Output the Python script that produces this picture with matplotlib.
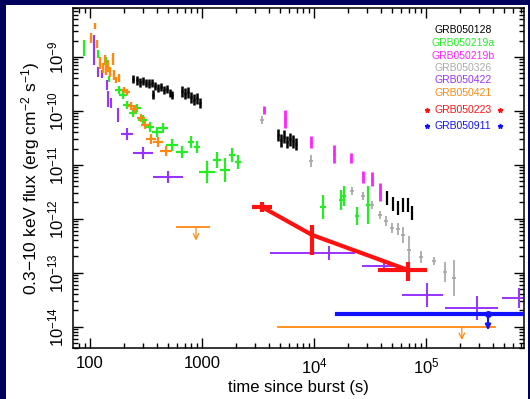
import numpy as np
import matplotlib
matplotlib.use('Agg')
import matplotlib.pyplot as plt
from matplotlib.patches import Rectangle
from matplotlib.ticker import NullFormatter

plt.rcParams['font.family'] = ['Liberation Sans', 'DejaVu Sans']
plt.rcParams['mathtext.fontset'] = 'custom'
plt.rcParams['mathtext.rm'] = 'Liberation Sans'
plt.rcParams['mathtext.it'] = 'Liberation Sans:italic'

# ---- data (time in s, flux in erg/cm2/s, errors in dex) ----

# GRB050128 (black), four groups
b1_t = [242, 263, 279, 297, 316, 336, 358, 365, 381, 405, 431, 458, 487, 518, 540]
b1_f = [3.9e-10, 3.7e-10, 3.4e-10, 3.6e-10, 3.3e-10, 3.2e-10, 3.3e-10, 2.0e-10, 2.9e-10,
        2.66e-10, 2.77e-10, 2.45e-10, 2.55e-10, 2.15e-10, 1.97e-10]
b2_t = [662, 705, 750, 798, 849, 902, 960]
b2_f = [2.3e-10, 2.1e-10, 2.2e-10, 1.8e-10, 1.6e-10, 1.7e-10, 1.4e-10]
b3_t = [4770, 5075, 5400, 5740, 6105, 6490, 6900]
b3_f = [3.57e-11, 2.88e-11, 3.3e-11, 2.65e-11, 3.0e-11, 2.76e-11, 2.43e-11]
b4_t = [4.49e4, 5.07e4, 5.62e4, 6.23e4, 6.9e4, 7.5e4]
b4_f = [2.42e-12, 1.87e-12, 1.58e-12, 1.8e-12, 1.8e-12, 1.28e-12]

# GRB050219a (green)
g0_t = [88, 118, 139, 148]
g0_f = [1.47e-9, 1.14e-9, 8.4e-10, 3.9e-10]
g0_yd = [0.15, 0.075, 0.07, 0.05]
g_t = [181, 197, 214, 242, 263, 297, 343, 397, 449, 540, 662, 798, 902, 1108, 1362, 1604, 1852, 2095,
       1.2e4, 1.74e4, 1.85e4, 2.42e4, 3.03e4]
g_f = [2.44e-10, 1.97e-10, 1.29e-10, 9.1e-11, 1.13e-10, 6.8e-11, 5.0e-11, 4.07e-11, 4.8e-11,
       2.33e-11, 1.73e-11, 2.65e-11, 2.14e-11, 7.3e-12, 1.23e-11, 8.0e-12, 1.52e-11, 1.13e-11,
       1.65e-12, 2.22e-12, 2.63e-12, 1.12e-12, 1.8e-12]
g_xd = [0.035, 0.035, 0.035, 0.035, 0.035, 0.04, 0.04, 0.045, 0.045, 0.05, 0.05, 0.03, 0.03,
        0.07, 0.035, 0.045, 0.03, 0.03, 0.03, 0.015, 0.015, 0.02, 0.015]
g_yd = [0.07, 0.07, 0.08, 0.08, 0.08, 0.09, 0.09, 0.09, 0.09, 0.11, 0.11, 0.11, 0.12,
        0.2, 0.15, 0.22, 0.13, 0.13, 0.22, 0.19, 0.19, 0.17, 0.36]

# GRB050219b (magenta)
m_t = [3580, 5510, 9400, 1.51e4, 2.14e4, 2.74e4, 3.3e4, 3.88e4]
m_f = [1.04e-10, 7.1e-11, 2.65e-11, 1.58e-11, 1.34e-11, 5.9e-12, 5.5e-12, 3.13e-12]
m_yd = [0.075, 0.17, 0.11, 0.17, 0.09, 0.11, 0.13, 0.17]

# GRB050326 (grey)
s_t = [3430, 9400, 2.18e4, 2.74e4, 3.3e4, 3.88e4, 4.39e4, 4.97e4, 5.62e4, 6.23e4, 7.05e4,
       9.0e4, 1.18e5, 1.48e5, 1.78e5]
s_f = [6.8e-11, 1.17e-11, 3.27e-12, 2.64e-12, 1.8e-12, 1.17e-12, 9.1e-13, 6.8e-13, 6.5e-13,
       5.0e-13, 2.63e-13, 1.95e-13, 1.64e-13, 1.02e-13, 7.9e-14]
s_yd = [0.075, 0.11, 0.075, 0.075, 0.075, 0.075, 0.09, 0.09, 0.11, 0.15, 0.26, 0.11, 0.075,
        0.19, 0.33]

# GRB050422 (purple)
p0_t = [108.6, 118, 128, 142, 145, 154, 178, 214, 297, 497]
p0_f = [1.35e-9, 5.27e-10, 4.84e-10, 3.02e-10, 1.66e-10, 1.40e-10, 8.4e-11, 3.7e-11, 1.66e-11, 5.9e-12]
p0_xd = [0.01, 0.01, 0.01, 0.01, 0.01, 0.01, 0.01, 0.054, 0.09, 0.134]
p0_yd = [0.28, 0.09, 0.075, 0.09, 0.15, 0.09, 0.13, 0.11, 0.11, 0.11]
p1_t = [1.36e4, 4.22e4, 1.02e5, 2.85e5, 6.76e5]
p1_lo = [4050, 2.69e4, 6.1e4, 1.48e5, 4.77e5]
p1_hi = [2.32e4, 5.86e4, 1.42e5, 4.4e5, 8.5e5]
p1_f = [2.31e-13, 1.33e-13, 3.84e-14, 2.2e-14, 3.39e-14]
p1_yd = [0.13, 0.11, 0.22, 0.22, 0.19]

# GRB050421 (orange)
o0_t = [102, 111, 115.5, 123, 131, 136, 139, 145, 151, 160, 164, 171, 181]
o0_f = [2.25e-9, 3.76e-9, 1.74e-9, 7.7e-10, 6.25e-10, 8.8e-10, 5.7e-10, 6.8e-10, 5.27e-10,
        9.2e-10, 4.6e-10, 3.74e-10, 4.1e-10]
o0_yd = [0.09, 0.055, 0.075, 0.11, 0.09, 0.1, 0.09, 0.11, 0.09, 0.11, 0.09, 0.055, 0.07]
o_t = [201, 214, 232, 252, 285, 310, 351, 405, 477]
o_f = [2.44e-10, 2.24e-10, 1.23e-10, 1.08e-10, 7.4e-11, 5.5e-11, 3.0e-11, 2.65e-11, 1.80e-11]
o_xd = [0.03, 0.03, 0.03, 0.03, 0.035, 0.035, 0.045, 0.045, 0.05]
o_yd = [0.06, 0.06, 0.07, 0.07, 0.08, 0.08, 0.09, 0.09, 0.09]
# upper limits: arrow time, start, stop, flux
oul_t = [884, 2.09e5]
oul_lo = [598, 4770]
oul_hi = [1155, 4.13e5]
oul_f = [7.0e-13, 1.0e-14]

# GRB050223 (red)
r_t = [3430, 9600, 6.9e4]
r_lo = [2790, 9600, 3.73e4]
r_hi = [4220, 9600, 1.02e5]
r_f = [1.65e-12, 5.0e-13, 1.12e-13]
r_flo = [1.35e-12, 2.12e-13, 7.0e-14]
r_fhi = [2.0e-12, 7.6e-13, 1.6e-13]

# GRB050911 (blue) upper limit
bl_t = 3.58e5
bl_lo = 1.6e4
bl_hi = 7.2e5
bl_f = 1.7e-14

names = ['GRB050128', 'GRB050219a', 'GRB050219b', 'GRB050326', 'GRB050422', 'GRB050421',
         'GRB050223', 'GRB050911']
cols = ['black', '#22ee22', '#ff22ff', '#aaaaaa', '#9933ff', '#ff8811', '#ff1111', '#1111ff']

fig = plt.figure(figsize=(5.3, 3.99), dpi=100)
fig.patch.set_facecolor('#00005c')
fig.add_artist(Rectangle((6 / 530, 0), 522 / 530, 1 - 5 / 399, transform=fig.transFigure,
                         facecolor='white', edgecolor='none', zorder=-1))
ax = fig.add_axes([73 / 530, 1 - 348 / 399, 451 / 530, 340 / 399])


def draw(t, f, xd, yd, c, lw=1.3, z=2):
    t = np.asarray(t, float)
    f = np.asarray(f, float)
    xd = np.broadcast_to(np.asarray(xd, float), t.shape)
    yd = np.broadcast_to(np.asarray(yd, float), t.shape)
    ax.errorbar(t, f, xerr=[t - t / 10**xd, t * 10**xd - t],
                yerr=[f - f / 10**yd, f * 10**yd - f],
                fmt='none', ecolor=c, elinewidth=lw, capsize=0, zorder=z)


draw(b1_t, b1_f, 0.012, 0.08, cols[0], 1.8)
draw(b2_t, b2_f, 0.012, 0.1, cols[0], 1.8)
draw(b3_t, b3_f, 0.012, 0.12, cols[0], 1.8)
draw(b4_t, b4_f, 0.01, 0.13, cols[0], 1.6)
draw(g0_t, g0_f, 0.008, g0_yd, cols[1], 1.6)
draw(g_t, g_f, g_xd, g_yd, cols[1], 1.6)
draw(m_t, m_f, 0.012, m_yd, cols[2], 2.0)
draw(s_t, s_f, 0.02, s_yd, cols[3], 1.3)
draw(p0_t, p0_f, p0_xd, p0_yd, cols[4], 1.5)
draw(o0_t, o0_f, 0.01, o0_yd, cols[5], 1.7)
draw(o_t, o_f, o_xd, o_yd, cols[5], 1.6)

# purple late points with asymmetric time bins
p1t = np.array(p1_t)
p1f = np.array(p1_f)
p1d = np.array(p1_yd)
ax.errorbar(p1t, p1f, xerr=[p1t - np.array(p1_lo), np.array(p1_hi) - p1t],
            yerr=[p1f - p1f / 10**p1d, p1f * 10**p1d - p1f],
            fmt='none', ecolor=cols[4], elinewidth=1.4, capsize=0, zorder=2)

# orange upper limits
for t, lo, hi, f in zip(oul_t, oul_lo, oul_hi, oul_f):
    ax.plot([lo, hi], [f, f], color=cols[5], lw=1.3, zorder=2)
    ax.annotate('', xy=(t, f / 10**0.25), xytext=(t, f),
                arrowprops=dict(arrowstyle='->', color=cols[5], lw=0.9, shrinkA=0, shrinkB=0))

# GRB050223
rt = np.array(r_t)
rf = np.array(r_f)
ax.plot(rt, rf, color=cols[6], lw=3, zorder=4)
ax.errorbar(rt, rf, xerr=[rt - np.array(r_lo), np.array(r_hi) - rt],
            yerr=[rf - np.array(r_flo), np.array(r_fhi) - rf],
            fmt='none', ecolor=cols[6], elinewidth=3, capsize=0, zorder=4)

# GRB050911
ax.plot([bl_lo, bl_hi], [bl_f, bl_f], color=cols[7], lw=3, zorder=4)
ax.plot([bl_t], [bl_f], 'o', color=cols[7], ms=4, zorder=5)
ax.annotate('', xy=(bl_t, bl_f / 10**0.3), xytext=(bl_t, bl_f),
            arrowprops=dict(arrowstyle='-|>', color=cols[7], lw=1.5, mutation_scale=8,
                            shrinkA=0, shrinkB=0), zorder=5)

# legend as coloured labels
ly = [0.935, 0.897, 0.859, 0.824, 0.788, 0.75, 0.70, 0.653]
for name, c, y in zip(names, cols, ly):
    ax.text(0.865, y, name, color=c, fontsize=7.5, ha='center', va='center',
            transform=ax.transAxes)
for c, y in zip(cols[6:], ly[6:]):
    ax.plot([0.785, 0.947], [y, y], '*', color=c, ms=3.5, ls='none', transform=ax.transAxes)

ax.set_xscale('log')
ax.set_yscale('log')
ax.set_xlim(70.5, 7.5e5)
ax.set_ylim(4.0e-15, 8.1e-9)
ax.set_xticks([100, 1000, 1e4, 1e5])
ax.set_xticklabels(['100', '1000', '$10^{4}$', '$10^{5}$'])
ax.set_yticks([1e-9, 1e-10, 1e-11, 1e-12, 1e-13, 1e-14])
ax.set_yticklabels(['$10^{-9}$', '$10^{-10}$', '$10^{-11}$', '$10^{-12}$', '$10^{-13}$', '$10^{-14}$'],
                   rotation=90, va='center')
ax.xaxis.set_minor_formatter(NullFormatter())
ax.yaxis.set_minor_formatter(NullFormatter())
ax.tick_params(which='both', direction='in', top=True, right=True, labelsize=12, width=1)
ax.tick_params(which='major', length=7)
ax.tick_params(which='minor', length=3.5)
ax.tick_params(axis='x', pad=6)
ax.tick_params(axis='y', pad=5)
for s in ax.spines.values():
    s.set_linewidth(1.1)

ax.set_xlabel('time since burst (s)', fontsize=12, labelpad=3)
ax.set_ylabel('0.3\u221210 keV flux (erg cm$^{-2}$ s$^{-1}$)', fontsize=12.5, labelpad=3)

fig.savefig('out.png', dpi=100, facecolor=fig.get_facecolor())
